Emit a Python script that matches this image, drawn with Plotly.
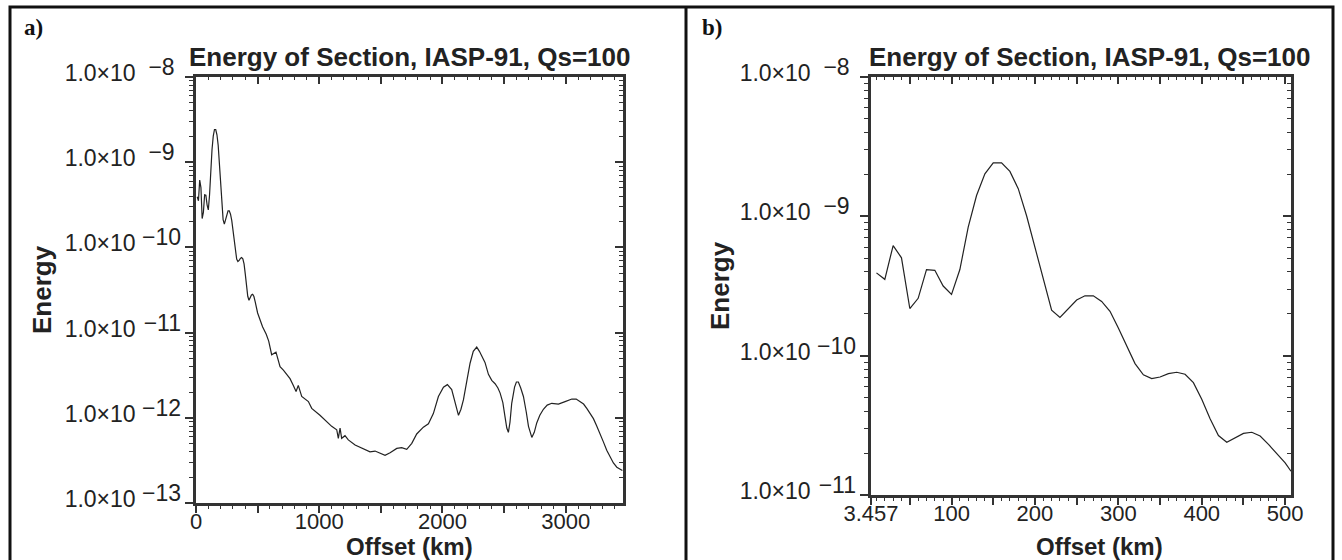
import plotly.graph_objects as go

W, H = 1342, 560

# ---------------- data ----------------
# near field, 10 km spacing (seen in detail in panel b)
offset_near = [10, 20, 30, 40, 50, 60, 70, 80, 90, 100,
               110, 120, 130, 140, 150, 160, 170, 180, 190, 200,
               210, 220, 230, 240, 250, 260, 270, 280, 290, 300,
               310, 320, 330, 340, 350, 360, 370, 380, 390, 400,
               410, 420, 430, 440, 450, 460, 470, 480, 490, 500, 507]
energy_near = [3.93e-10, 3.53e-10, 6.17e-10, 5.04e-10, 2.18e-10, 2.58e-10, 4.15e-10, 4.10e-10, 3.16e-10, 2.75e-10,
               4.15e-10, 8.36e-10, 1.41e-9, 2.02e-9, 2.42e-9, 2.42e-9, 2.10e-9, 1.58e-9, 1.01e-9, 6.00e-10,
               3.55e-10, 2.12e-10, 1.88e-10, 2.18e-10, 2.51e-10, 2.69e-10, 2.69e-10, 2.45e-10, 2.08e-10, 1.58e-10,
               1.16e-10, 8.77e-11, 7.28e-11, 6.84e-11, 7.03e-11, 7.43e-11, 7.60e-11, 7.36e-11, 6.40e-11, 4.86e-11,
               3.52e-11, 2.67e-11, 2.39e-11, 2.57e-11, 2.77e-11, 2.82e-11, 2.65e-11, 2.31e-11, 1.99e-11, 1.70e-11, 1.48e-11]

# far field (panel a only)
offset_far = [540, 570, 590, 614, 649, 682, 709, 737, 763, 790,
              812, 830, 858, 912, 939, 1006, 1061, 1101, 1142, 1155,
              1169, 1182, 1209, 1236, 1291, 1358, 1412, 1453, 1494, 1534,
              1575, 1629, 1669, 1710, 1751, 1791, 1845, 1886, 1926, 1967,
              2008, 2040, 2075, 2105, 2130, 2150, 2170, 2200, 2224, 2250,
              2278, 2300, 2319, 2345, 2373, 2400, 2427, 2450, 2468, 2490,
              2508, 2522, 2535, 2548, 2562, 2585, 2600, 2616, 2635, 2657,
              2680, 2698, 2725, 2745, 2765, 2790, 2819, 2850, 2887, 2941,
              2995, 3050, 3085, 3117, 3145, 3171, 3200, 3225, 3250, 3279,
              3305, 3333, 3360, 3387, 3415, 3442, 3460]
energy_far = [1.17e-11, 9.55e-12, 7.94e-12, 5.50e-12, 5.89e-12, 3.98e-12, 3.63e-12, 3.16e-12, 2.88e-12, 2.40e-12,
              2.04e-12, 2.40e-12, 1.78e-12, 1.55e-12, 1.29e-12, 1.07e-12, 8.91e-13, 7.94e-13, 7.24e-13, 5.75e-13,
              7.59e-13, 5.75e-13, 6.17e-13, 5.50e-13, 4.79e-13, 4.37e-13, 3.98e-13, 4.07e-13, 3.80e-13, 3.63e-13,
              3.89e-13, 4.37e-13, 4.47e-13, 4.27e-13, 5.01e-13, 6.46e-13, 7.76e-13, 8.51e-13, 1.12e-12, 1.78e-12,
              2.29e-12, 2.45e-12, 2.14e-12, 1.41e-12, 1.07e-12, 1.26e-12, 1.62e-12, 2.82e-12, 4.37e-12, 6.03e-12,
              6.76e-12, 6.03e-12, 5.25e-12, 4.47e-12, 3.24e-12, 2.75e-12, 2.51e-12, 2.24e-12, 1.95e-12, 1.51e-12,
              1.02e-12, 7.59e-13, 6.76e-13, 8.91e-13, 1.48e-12, 2.29e-12, 2.63e-12, 2.63e-12, 2.24e-12, 1.78e-12,
              1.17e-12, 7.94e-13, 5.89e-13, 6.76e-13, 8.71e-13, 1.07e-12, 1.26e-12, 1.41e-12, 1.48e-12, 1.45e-12,
              1.55e-12, 1.66e-12, 1.66e-12, 1.55e-12, 1.45e-12, 1.29e-12, 1.12e-12, 9.77e-13, 8.13e-13, 6.61e-13,
              5.25e-13, 4.17e-13, 3.47e-13, 2.95e-13, 2.63e-13, 2.51e-13, 2.40e-13]

offset_a = offset_near[:-1] + offset_far
energy_a = energy_near[:-1] + energy_far
offset_b = offset_near
energy_b = energy_near

title_text = "Energy of Section, IASP-91, Qs=100"

xa_ticks = [0, 500, 1000, 1500, 2000, 2500, 3000]
xa_labels = ["0", "", "1000", "", "2000", "", "3000"]
xb_ticks = [3.457, 50, 100, 150, 200, 250, 300, 350, 400, 450, 500]
xb_labels = ["3.457", "", "100", "", "200", "", "300", "", "400", "", "500"]
ya_exps = [-13, -12, -11, -10, -9, -8]
yb_exps = [-11, -10, -9, -8]
mantissa = "1.0×10"

# ---------------- helpers ----------------
def px(x):
    return x / W

def py(y):
    return 1 - y / H

def decades(exps):
    return [10.0 ** e for e in exps]

def exp_text(e):
    # minus sign; a narrow trailing space on single digits so exponents start in line
    d = str(abs(e))
    return "\u2212" + d + ("\u2008" if len(d) == 1 else "")

def log_minor(exps):
    out = []
    for e in exps[:-1]:
        for m in range(2, 10):
            out.append(m * 10.0 ** e)
    return out

LINE = "#222222"
TXT = "#222222"
FONT = "Liberation Sans, Arial, sans-serif"

fig = go.Figure()

def add_series(x, y, xa, ya, visible_line):
    if visible_line:
        fig.add_trace(go.Scatter(x=x, y=y, mode="lines", line=dict(color=LINE, width=1.2),
                                 xaxis=xa, yaxis=ya, showlegend=False))
    else:
        fig.add_trace(go.Scatter(x=x, y=y, mode="lines", opacity=0, hoverinfo="skip",
                                 xaxis=xa, yaxis=ya, showlegend=False))

add_series(offset_a, energy_a, "x", "y", True)
add_series(offset_a, energy_a, "x3", "y3", False)
add_series(offset_a, energy_a, "x", "y5", False)
add_series(offset_b, energy_b, "x2", "y2", True)
add_series(offset_b, energy_b, "x4", "y4", False)
add_series(offset_b, energy_b, "x2", "y6", False)

dom_xa = [px(196), px(623)]
dom_ya = [py(503), py(77)]
dom_xb = [px(871), px(1291)]
dom_yb = [py(495), py(77)]

xa_range = [0, 3465]
xb_range = [3.457, 507]

common_x = dict(showgrid=False, zeroline=False, showline=True, linecolor="#333", linewidth=2.5,
                tickcolor="#333", tickwidth=1.5, ticklen=7, automargin=False)
common_y = dict(showgrid=False, zeroline=False, showline=True, linecolor="#333", linewidth=2.5,
                tickcolor="#333", tickwidth=1.5, ticklen=8, type="log", automargin=False)

xa_minor = [v for v in range(100, 3465, 100) if v % 500 != 0]
xb_minor = [v for v in range(10, 507, 10) if v % 50 != 0]

xfont = dict(family=FONT, size=22, color=TXT)
yfont = dict(family=FONT, size=23, color=TXT)

def minor(vals, side, ln):
    return dict(tickmode="array", tickvals=vals, ticks=side, ticklen=ln, tickcolor="#333", tickwidth=1.2)

def exp_axis(dom, rng, anchor, over, exps):
    return dict(domain=dom, range=rng, type="log", anchor=anchor, overlaying=over, side="left",
                showgrid=False, zeroline=False, showline=False, ticks="", automargin=False,
                tickmode="array", tickvals=decades(exps), ticktext=[exp_text(e) for e in exps],
                tickfont=yfont, ticklabelstandoff=14, ticklabelshift=-10)

fig.update_layout(
    width=W, height=H,
    margin=dict(l=0, r=0, t=0, b=0, pad=0, autoexpand=False),
    paper_bgcolor="white", plot_bgcolor="white",
    xaxis=dict(common_x, domain=dom_xa, range=xa_range, anchor="y", ticks="outside",
               tickmode="array", tickvals=xa_ticks, ticktext=xa_labels, tickfont=xfont,
               ticklabelstandoff=-10, minor=minor(xa_minor, "outside", 3.5)),
    xaxis3=dict(common_x, domain=dom_xa, range=xa_range, anchor="y3", overlaying="x", side="top",
                ticks="inside", tickmode="array", tickvals=xa_ticks, showticklabels=False,
                minor=minor(xa_minor, "inside", 3.5)),
    yaxis=dict(common_y, domain=dom_ya, range=[-13, -8], anchor="x", ticks="outside",
               tickmode="array", tickvals=decades(ya_exps), ticktext=[mantissa] * len(ya_exps),
               tickfont=yfont, ticklabelstandoff=45, ticklabelshift=-4,
               minor=minor(log_minor(ya_exps), "outside", 4)),
    yaxis3=dict(common_y, domain=dom_ya, range=[-13, -8], anchor="x3", overlaying="y", side="right",
                ticks="inside", tickmode="array", tickvals=decades(ya_exps), showticklabels=False,
                minor=minor(log_minor(ya_exps), "inside", 4)),
    yaxis5=exp_axis(dom_ya, [-13, -8], "x", "y", ya_exps),
    xaxis2=dict(common_x, domain=dom_xb, range=xb_range, anchor="y2", ticks="outside",
                tickmode="array", tickvals=xb_ticks, ticktext=xb_labels, tickfont=xfont,
                ticklabelstandoff=-10, minor=minor(xb_minor, "outside", 3.5)),
    xaxis4=dict(common_x, domain=dom_xb, range=xb_range, anchor="y4", overlaying="x2", side="top",
                ticks="inside", tickmode="array", tickvals=xb_ticks, showticklabels=False,
                minor=minor(xb_minor, "inside", 3.5)),
    yaxis2=dict(common_y, domain=dom_yb, range=[-11, -8], anchor="x2", ticks="outside",
                tickmode="array", tickvals=decades(yb_exps), ticktext=[mantissa] * len(yb_exps),
                tickfont=yfont, ticklabelstandoff=45, ticklabelshift=-4,
                minor=minor(log_minor(yb_exps), "outside", 4)),
    yaxis4=dict(common_y, domain=dom_yb, range=[-11, -8], anchor="x4", overlaying="y2", side="right",
                ticks="inside", tickmode="array", tickvals=decades(yb_exps), showticklabels=False,
                minor=minor(log_minor(yb_exps), "inside", 4)),
    yaxis6=exp_axis(dom_yb, [-11, -8], "x2", "y2", yb_exps),
    showlegend=False,
)

tfont = dict(family=FONT, size=26, color=TXT)
afont = dict(family=FONT, size=26, color=TXT)
ofont = dict(family=FONT, size=24, color=TXT)
lfont = dict(family="Liberation Serif, Times New Roman, serif", size=23, color="#111")

ann = []
# titles
ann.append(dict(text="<b>%s</b>" % title_text, xref="x domain", yref="y domain", x=0.5, y=1,
                xanchor="center", yanchor="bottom", yshift=3, showarrow=False, font=tfont))
ann.append(dict(text="<b>%s</b>" % title_text, xref="x2 domain", yref="y2 domain", x=0.5, y=1,
                xanchor="center", yanchor="bottom", yshift=3, xshift=8, showarrow=False, font=tfont))
# y axis titles
ann.append(dict(text="<b>Energy</b>", xref="paper", yref="y domain", x=px(42), y=0.5,
                textangle=-90, showarrow=False, font=afont, xanchor="center", yanchor="middle"))
ann.append(dict(text="<b>Energy</b>", xref="paper", yref="y2 domain", x=px(720), y=0.5,
                textangle=-90, showarrow=False, font=afont, xanchor="center", yanchor="middle"))
# x axis titles
ann.append(dict(text="<b>Offset (km)</b>", xref="x domain", yref="paper", x=0.5, y=py(546),
                showarrow=False, font=ofont, xanchor="center", yanchor="middle"))
ann.append(dict(text="<b>Offset (km)</b>", xref="x2 domain", yref="paper", x=0.5, y=py(546),
                xshift=18, showarrow=False, font=ofont, xanchor="center", yanchor="middle"))
# panel letters
ann.append(dict(text="<b>a)</b>", xref="paper", yref="paper", x=px(22), y=py(27),
                xanchor="left", yanchor="middle", showarrow=False, font=lfont))
ann.append(dict(text="<b>b)</b>", xref="paper", yref="paper", x=px(700), y=py(27),
                xanchor="left", yanchor="middle", showarrow=False, font=lfont))
fig.update_layout(annotations=ann)

# outer frame and divider
fig.update_layout(shapes=[
    dict(type="rect", xref="paper", yref="paper", x0=px(10), x1=px(1333), y0=py(562), y1=py(7),
         line=dict(color="#111", width=3), fillcolor="rgba(0,0,0,0)", layer="above"),
    dict(type="line", xref="paper", yref="paper", x0=px(686), x1=px(686), y0=py(562), y1=py(7),
         line=dict(color="#111", width=3), layer="above"),
])

fig.write_html("out.html")
